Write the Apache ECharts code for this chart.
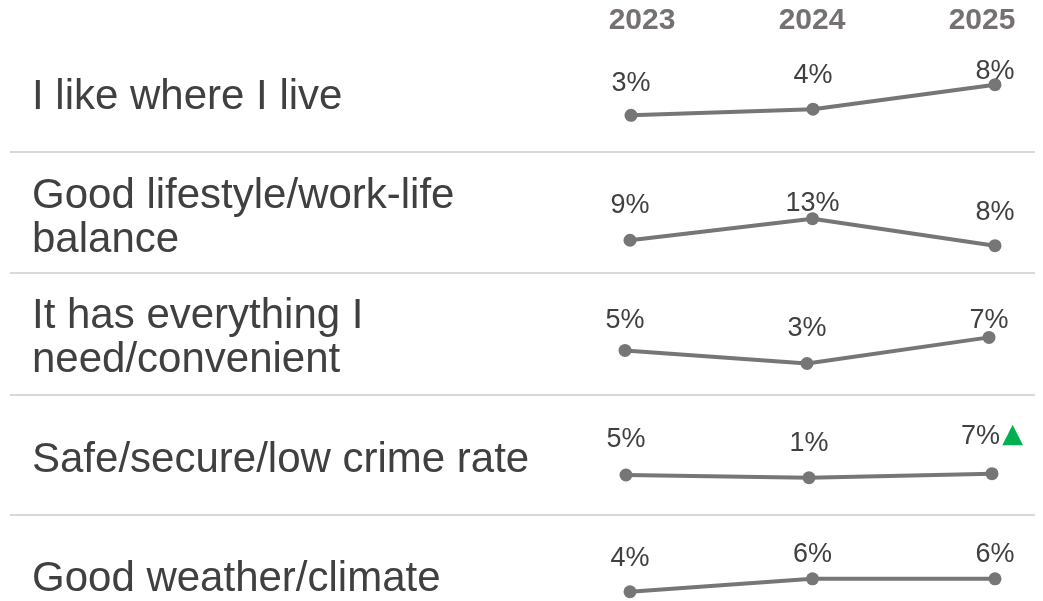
<!DOCTYPE html>
<html>
<head>
<meta charset="utf-8">
<script src="https://cdn.jsdelivr.net/npm/echarts@6/dist/echarts.min.js"></script>
<style>
  html, body { margin: 0; padding: 0; background: #ffffff; }
  #chart { width: 1043px; height: 601px; }
</style>
</head>
<body>
<div id="chart"></div>
<script>
// ---- data ----
const years = ['2023', '2024', '2025'];
const reasons = [
  'I like where I live',
  'Good lifestyle/work-life\nbalance',
  'It has everything I\nneed/convenient',
  'Safe/secure/low crime rate',
  'Good weather/climate'
];
const likeWhereILive   = [3, 4, 8];
const goodLifestyle    = [9, 13, 8];
const hasEverything    = [5, 3, 7];
const safeSecure       = [5, 1, 7];
const goodWeather      = [4, 6, 6];
// significant increase marker (1 = ▲ shown)
const sigUpLike        = [0, 0, 0];
const sigUpLifestyle   = [0, 0, 0];
const sigUpEverything  = [0, 0, 0];
const sigUpSafe        = [0, 0, 1];
const sigUpWeather     = [0, 0, 0];

const rowValues = [likeWhereILive, goodLifestyle, hasEverything, safeSecure, goodWeather];
const rowSig = [sigUpLike, sigUpLifestyle, sigUpEverything, sigUpSafe, sigUpWeather];

// ---- layout / scale settings (not data) ----
const gridTops    = [70, 190, 310, 430, 540];
const gridHeights = [60, 60, 60, 60, 55];
const gridLefts   = [631, 630, 625, 626, 630];
const gridRights  = [48, 48, 54, 51, 48];
const yRanges     = [[0.6, 10.4], [7.2, 18.3], [2, 11.2], [-17, 71], [3.5, 12]];
const rowMiddles  = [97.5, 218, 338, 460, 579];
const separatorYs = [152, 273, 395, 515];
// vertical nudge of each value label (px), layout only
const labelNudge  = [[1, -1, 20], [-2, 18, 0], [3, -2, 16], [-2, -1, -2], [0, 9, 9]];

const FONT = '"Liberation Sans", Arial, sans-serif';
const TEXT = '#404040';
const LINE = '#767676';

const chart = echarts.init(document.getElementById('chart'), null, { renderer: 'canvas' });

const grids = [];
const xAxes = [];
const yAxes = [];
const series = [];

rowValues.forEach((vals, i) => {
  grids.push({ top: gridTops[i], height: gridHeights[i], left: gridLefts[i], right: gridRights[i] });
  xAxes.push({
    type: 'category', gridIndex: i, data: years, boundaryGap: false,
    axisLine: { show: false }, axisTick: { show: false }, axisLabel: { show: false }, splitLine: { show: false }
  });
  yAxes.push({
    type: 'value', gridIndex: i, min: yRanges[i][0], max: yRanges[i][1],
    axisLine: { show: false }, axisTick: { show: false }, axisLabel: { show: false }, splitLine: { show: false }
  });
  series.push({
    type: 'line', xAxisIndex: i, yAxisIndex: i,
    data: vals.map((v, j) => ({
      value: v, sig: rowSig[i][j],
      label: { offset: [0, labelNudge[i][j]] }
    })),
    symbol: 'circle', symbolSize: 13,
    lineStyle: { color: LINE, width: 4 },
    itemStyle: { color: LINE },
    silent: true,
    z: 3,
    label: {
      show: true, position: 'top', distance: 13,
      fontFamily: FONT, fontSize: 27, color: TEXT,
      formatter: (p) => p.data.sig ? p.value + '%{up|▲}' : p.value + '%',
      rich: { up: { color: '#00B050', fontSize: 27, fontFamily: '"DejaVu Sans", sans-serif', padding: [0, 0, 4, 2] } }
    }
  });
});

// header grid for the year labels
const hi = rowValues.length;
grids.push({ top: 40, height: 1, left: 642, right: 61 });
xAxes.push({
  type: 'category', gridIndex: hi, data: years, boundaryGap: false, position: 'top',
  axisLine: { show: false }, axisTick: { show: false }, splitLine: { show: false },
  axisLabel: { show: true, margin: 4, fontFamily: FONT, fontSize: 30, fontWeight: 'bold', color: '#767171' }
});
yAxes.push({ type: 'value', gridIndex: hi, show: false });

const graphics = [];
separatorYs.forEach((y) => {
  graphics.push({
    type: 'line', silent: true,
    shape: { x1: 10, y1: y, x2: 1035, y2: y },
    style: { stroke: '#d9d9d9', lineWidth: 2 }
  });
});
reasons.forEach((r, i) => {
  graphics.push({
    type: 'text', silent: true, x: 32, y: rowMiddles[i],
    style: {
      text: r, fontFamily: FONT, fontSize: 42, fill: TEXT,
      lineHeight: 44, verticalAlign: 'middle', align: 'left'
    }
  });
});

chart.setOption({
  animation: false,
  backgroundColor: '#ffffff',
  grid: grids,
  xAxis: xAxes,
  yAxis: yAxes,
  series: series,
  graphic: graphics
});
</script>
</body>
</html>
